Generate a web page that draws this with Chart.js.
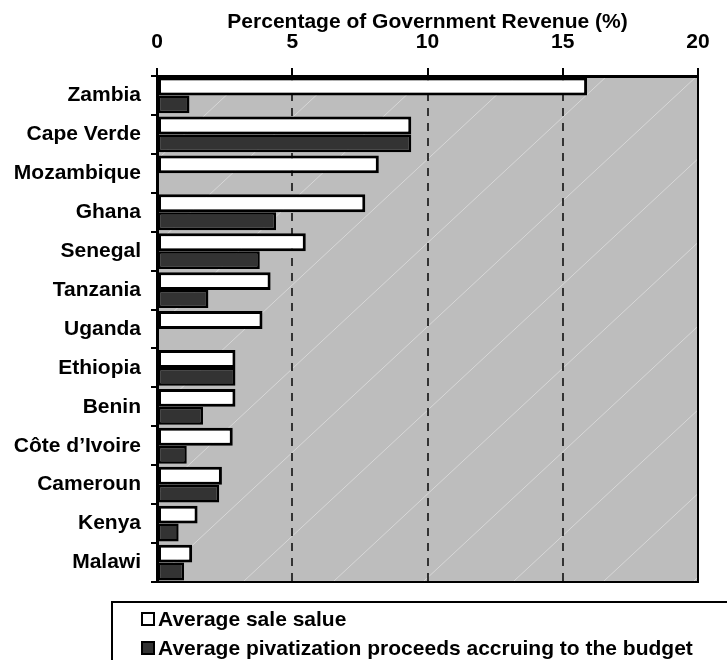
<!DOCTYPE html>
<html>
<head>
<meta charset="utf-8">
<title>Privatization proceeds</title>
<script src="https://cdn.jsdelivr.net/npm/chart.js@4.4.0/dist/chart.umd.min.js"></script>
<style>
  html, body { margin: 0; padding: 0; background: #fff; overflow: hidden; }
  #wrap { position: relative; width: 727px; height: 660px; }
  #legend {
    position: absolute; left: 111px; top: 601px; width: 700px; height: 100px;
    border: 2px solid #000; box-sizing: border-box;
    font: bold 21px "Liberation Sans", Arial, sans-serif; color: #000;
  }
  .item { position: absolute; left: 28px; height: 24px; line-height: 24px; display: flex; align-items: center; white-space: nowrap; }
  .box { width: 10px; height: 10px; border: 2px solid #000; margin-right: 3px; }
</style>
</head>
<body>
<div id="wrap">
  <canvas id="revenueChart" width="727" height="660"></canvas>
  <div id="legend">
    <div class="item" style="top:4px"><span class="box" style="background:#fff"></span>Average sale salue</div>
    <div class="item" style="top:33px"><span class="box" style="background:#333"></span>Average pivatization proceeds accruing to the budget</div>
  </div>
</div>
<script>
const countries = ['Zambia', 'Cape Verde', 'Mozambique', 'Ghana', 'Senegal', 'Tanzania', 'Uganda',
  'Ethiopia', 'Benin', 'Côte d\u2019Ivoire', 'Cameroun', 'Kenya', 'Malawi'];
const saleValue = [15.9, 9.4, 8.2, 7.7, 5.5, 4.2, 3.9, 2.9, 2.9, 2.8, 2.4, 1.5, 1.3];
const budgetProceeds = [1.2, 9.4, null, 4.4, 3.8, 1.9, null, 2.9, 1.7, 1.1, 2.3, 0.8, 1.0];
const xTicks = [0, 5, 10, 15, 20];

Chart.defaults.font.family = '"Liberation Sans", Arial, sans-serif';
Chart.defaults.color = '#000';

const boldFont = { size: 21, weight: 'bold' };

// grey plot background with faint diagonal hatching, plus the right/bottom frame
const plotBackdrop = {
  id: 'plotBackdrop',
  beforeDraw(chart) {
    const { ctx, chartArea: a } = chart;
    ctx.save();
    ctx.fillStyle = '#bdbdbd';
    ctx.fillRect(a.left, a.top, a.width, a.height);
    ctx.beginPath();
    ctx.rect(a.left, a.top, a.width, a.height);
    ctx.clip();
    ctx.strokeStyle = 'rgba(255,255,255,0.4)';
    ctx.lineWidth = 1;
    const run = a.height / 0.93;
    for (let x0 = a.left - 180; x0 < a.right + run; x0 += 90) {
      ctx.beginPath();
      ctx.moveTo(x0, a.top);
      ctx.lineTo(x0 - run, a.bottom);
      ctx.stroke();
    }
    ctx.restore();
  },
  afterDraw(chart) {
    const { ctx, chartArea: a } = chart;
    ctx.save();
    ctx.strokeStyle = '#000';
    ctx.lineWidth = 2;
    ctx.beginPath();
    ctx.moveTo(a.right, a.top);
    ctx.lineTo(a.right, a.bottom);
    ctx.lineTo(a.left, a.bottom);
    ctx.stroke();
    ctx.restore();
  }
};

new Chart(document.getElementById('revenueChart'), {
  type: 'bar',
  data: {
    labels: countries,
    datasets: [{
      label: 'Average sale salue',
      data: saleValue,
      backgroundColor: '#ffffff',
      borderColor: '#000',
      borderWidth: 3,
      borderSkipped: false
    }, {
      label: 'Average pivatization proceeds accruing to the budget',
      data: budgetProceeds,
      backgroundColor: '#333333',
      borderColor: '#000',
      borderWidth: 2.5,
      borderSkipped: false
    }]
  },
  options: {
    indexAxis: 'y',
    responsive: false,
    animation: false,
    categoryPercentage: 0.92,
    barPercentage: 1.0,
    layout: { padding: { left: 0, top: 0, right: 29, bottom: 78 } },
    plugins: {
      legend: { display: false },
      tooltip: { enabled: false }
    },
    scales: {
      x: {
        position: 'top',
        min: 0,
        max: 20,
        afterBuildTicks: s => { s.ticks = xTicks.map(v => ({ value: v })); },
        ticks: { color: '#000', font: boldFont, padding: 13 },
        grid: {
          color: c => (c.tick && (c.tick.value === 0 || c.tick.value === 20)) ? 'rgba(0,0,0,0)' : '#333',
          lineWidth: 2,
          tickColor: '#000',
          tickWidth: 2,
          tickLength: 8
        },
        border: { color: '#000', width: 3, dash: [8, 7] },
        title: {
          display: true,
          text: 'Percentage of Government Revenue (%)',
          color: '#000',
          font: boldFont,
          padding: { top: 10, bottom: 0 }
        },
        afterFit: s => { s.height = 76; }
      },
      y: {
        ticks: { color: '#000', font: boldFont, padding: 10 },
        grid: {
          offset: true,
          drawOnChartArea: false,
          color: '#000',
          lineWidth: 2,
          tickLength: 6
        },
        border: { color: '#000', width: 3 },
        afterFit: s => { s.width = 157; }
      }
    }
  },
  plugins: [plotBackdrop]
});
</script>
</body>
</html>
